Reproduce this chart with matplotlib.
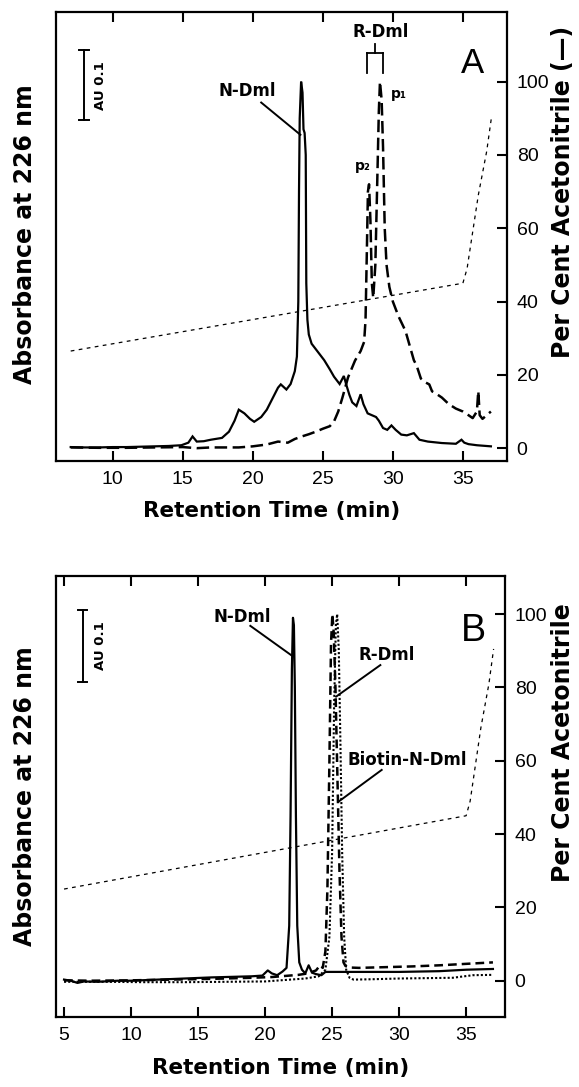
import matplotlib
matplotlib.use("Agg")
import matplotlib.pyplot as plt
from matplotlib import font_manager

# ---------------- data ----------------
# Panel A: N-Dml (solid), R-Dml (dashed), acetonitrile gradient (thin dashed)
a_n_time = [7.0, 8, 9, 10, 11, 12, 13, 14, 14.9, 15.4, 15.7, 16.0, 16.5, 17.0, 17.8, 18.3, 18.7,
            19.0, 19.4, 19.8, 20.1, 20.6, 21.0, 21.4, 21.8, 22.0, 22.4, 22.7, 23.0, 23.15, 23.25,
            23.3, 23.35, 23.45, 23.55, 23.62, 23.7, 23.78, 23.82, 23.9, 24.0, 24.2, 24.5, 24.8,
            25.1, 25.5, 25.8, 26.2, 26.5, 26.7, 26.9, 27.1, 27.4, 27.7, 27.9, 28.2, 28.5, 28.8,
            29.0, 29.3, 29.6, 29.9, 30.2, 30.6, 31.0, 31.5, 31.9, 32.5, 33.5, 34.5, 34.9, 35.1,
            35.4, 36.0, 37.0]
a_n_abs = [0.3, 0.2, 0.2, 0.3, 0.3, 0.4, 0.5, 0.6, 0.8, 1.5, 3.2, 1.8, 1.9, 2.3, 2.8, 4.5, 7.5,
           10.5, 9.5, 8.0, 7.2, 8.5, 10.5, 13.5, 16.5, 17.4, 16.0, 17.5, 21.0, 25.0, 40.0,
           70.0, 90.0, 100.0, 97.0, 87.0, 86.0, 80.0, 45.0, 35.0, 31.0, 28.5, 27.0, 25.5,
           24.0, 21.5, 19.5, 17.5, 19.7, 17.0, 14.5, 12.5, 11.5, 14.7, 12.0, 9.5, 9.0, 8.5,
           7.5, 5.5, 5.0, 6.2, 5.0, 3.7, 3.5, 4.1, 2.3, 1.8, 1.4, 1.2, 2.3, 1.5,
           1.1, 0.8, 0.5]

a_r_time = [7.0, 9, 11, 13, 15, 16, 17, 18, 19, 20, 21, 21.8, 22.5, 23.0, 23.5, 24.0, 24.5, 25.0,
            25.5, 25.8, 26.1, 26.4, 26.8, 27.3, 27.7, 27.95, 28.05, 28.15, 28.22, 28.3, 28.4,
            28.5, 28.6, 28.75, 28.9, 29.0, 29.08, 29.2, 29.3, 29.42, 29.55, 29.75, 30.0, 30.4,
            30.9, 31.2, 31.5, 31.7, 32.0, 32.3, 32.6, 32.8, 33.0, 33.5, 34.0, 34.5, 35.0, 35.4,
            35.7, 36.0, 36.1, 36.2, 36.4, 36.7, 37.0]
a_r_abs = [0.2, 0.1, 0.1, 0.2, 0.3, 0.0, 0.2, 0.2, 0.2, 0.5, 1.0, 1.8, 1.5, 2.5, 3.2, 3.8, 4.5, 5.3,
           6.0, 7.3, 10.0, 13.8, 19.3, 23.9, 26.5, 29.0, 35.0, 55.0, 70.0, 72.0, 62.0,
           45.0, 41.0, 50.0, 75.0, 92.0, 100.0, 95.0, 82.0, 60.0, 50.0, 44.0, 40.0, 36.0,
           32.0, 28.0, 24.0, 22.5, 19.0, 18.0, 17.4, 15.5, 15.1, 13.8, 12.0, 10.8, 10.0, 9.0,
           8.2, 10.0, 15.6, 9.0, 8.0, 9.0, 10.0]

a_acn_time = [7.0, 35.0, 35.3, 36.1, 36.7, 37.05]
a_acn_pct = [26.5, 45.0, 49.0, 69.0, 81.0, 90.5]

# Panel B: N-Dml (solid), R-Dml (dashed), Biotin-N-Dml (dotted), gradient (thin dashed)
b_n_time = [5.0, 5.5, 6.0, 6.5, 7.5, 9, 10, 12, 14, 16, 18, 19, 19.8, 20.2, 20.5, 20.9, 21.3,
            21.6, 21.8, 21.9, 22.0, 22.08, 22.15, 22.22, 22.3, 22.4, 22.55, 22.75, 23.0, 23.25,
            23.5, 23.8, 24.2, 24.5, 25.0, 27, 30, 33, 35, 37]
b_n_abs = [0.3, 0.0, -0.6, -0.2, -0.3, 0.0, 0.0, 0.3, 0.6, 0.9, 1.1, 1.2, 1.4, 2.8, 2.0, 1.5, 2.5,
           3.5, 15.0, 45.0, 85.0, 99.0, 97.0, 80.0, 45.0, 15.0, 5.0, 3.0, 2.0, 4.2,
           2.2, 1.8, 1.5, 2.4, 2.4, 2.4, 2.4, 2.6, 3.0, 3.2]

b_r_time = [5.0, 7, 10, 13, 16, 19, 20.5, 21.5, 22.5, 23.2, 23.8, 24.1, 24.3, 24.5, 24.65, 24.8,
            24.92, 25.02, 25.12, 25.25, 25.4, 25.55, 25.7, 25.85, 26.0, 26.3, 27, 29, 31, 33,
            35, 37]
b_r_abs = [0.1, 0.0, 0.1, 0.3, 0.5, 0.8, 1.0, 1.3, 1.6, 2.0, 2.8, 4.2, 3.5, 8.0, 25.0, 60.0,
           92.0, 100.0, 95.0, 80.0, 55.0, 30.0, 12.0, 5.0, 4.0, 3.6, 3.5, 3.7, 3.9, 4.2,
           4.6, 5.0]

b_b_time = [5.0, 8, 11, 14, 17, 20, 21.5, 23, 24.0, 24.5, 24.8, 25.0, 25.15, 25.28, 25.38, 25.5,
            25.62, 25.75, 25.9, 26.05, 26.3, 26.6, 28, 30, 32, 34, 35.5, 37]
b_b_abs = [-0.3, -0.3, -0.4, -0.4, -0.3, -0.2, 0.2, 0.6, 1.2, 3.0, 12.0, 35.0, 75.0, 97.0, 100.0,
           90.0, 65.0, 35.0, 12.0, 3.0, 0.8, 0.3, 0.4, 0.6, 0.7, 0.8, 1.5, 1.6]

b_acn_time = [5.0, 35.0, 35.3, 36.1, 36.7, 37.05]
b_acn_pct = [25.0, 45.0, 49.0, 69.0, 81.0, 90.5]

a_xticks = [10, 15, 20, 25, 30, 35]
b_xticks = [5, 10, 15, 20, 25, 30, 35]
pct_ticks = [0, 20, 40, 60, 80, 100]

# ---------------- fonts ----------------
names = {f.name for f in font_manager.fontManager.ttflist}
if "Liberation Sans Narrow" in names:
    TICK_FONT, TICK_SIZE = "Liberation Sans Narrow", 15.5
else:
    TICK_FONT, TICK_SIZE = "Liberation Sans", 14
LAB_FONT = "DejaVu Sans"
LETTER_FONT = "Liberation Sans"

W, H = 579, 1087
fig = plt.figure(figsize=(W / 100, H / 100), dpi=100)


def px_axes(l, t, r, b):
    return [l / W, 1 - b / H, (r - l) / W, (b - t) / H]


axA = fig.add_axes(px_axes(56, 12, 507, 461))
axB = fig.add_axes(px_axes(56, 576, 505, 1017))

acn_style = dict(color="black", lw=0.9, dashes=(3.0, 3.5))


def style_axes(ax, xlim, ylim, xticks):
    ax.set_xlim(*xlim)
    ax.set_ylim(*ylim)
    for s in ax.spines.values():
        s.set_linewidth(1.6)
        s.set_color("black")
    ax.set_xticks(xticks)
    ax.yaxis.tick_right()
    ax.set_yticks(pct_ticks)
    ax.tick_params(axis="x", direction="in", top=True, bottom=True, length=7, width=1.5,
                   pad=7, labelsize=TICK_SIZE)
    ax.tick_params(axis="y", direction="in", left=False, right=True, length=7, width=1.5,
                   pad=7, labelsize=TICK_SIZE)
    for lab in ax.get_xticklabels() + ax.get_yticklabels():
        lab.set_family(TICK_FONT)


# ---------------- panel A ----------------
axA.plot(a_acn_time, a_acn_pct, **acn_style)
axA.plot(a_r_time, a_r_abs, color="black", lw=1.8, dashes=(5, 2.2))
axA.plot(a_n_time, a_n_abs, color="black", lw=1.6, solid_joinstyle="miter")
style_axes(axA, (5.95, 38.15), (-3.5, 119), a_xticks)

bold = dict(family=LAB_FONT, weight="bold", color="black")

# scale bar
axA.plot([7.95, 7.95], [89.5, 108.5], color="black", lw=1.4)
axA.plot([7.6, 8.3], [108.5, 108.5], color="black", lw=1.4)
axA.plot([7.6, 8.3], [89.5, 89.5], color="black", lw=1.4)
axA.text(9.1, 99, "AU 0.1", rotation=90, ha="center", va="center", fontsize=9.5, **bold)

axA.text(19.6, 97.5, "N-Dml", ha="center", va="center", fontsize=12, **bold)
axA.plot([20.6, 23.4], [94.3, 85.5], color="black", lw=1.4)

axA.text(29.15, 113.6, "R-Dml", ha="center", va="center", fontsize=12, **bold)
axA.plot([28.73, 28.73], [110.3, 107.8], color="black", lw=1.3)
axA.plot([28.17, 29.3], [107.8, 107.8], color="black", lw=1.3)
axA.plot([28.17, 28.17], [107.8, 102.3], color="black", lw=1.3)
axA.plot([29.3, 29.3], [107.8, 102.3], color="black", lw=1.3)
axA.text(30.45, 96.5, "p\u2081", ha="center", va="center", fontsize=10, **bold)
axA.text(27.85, 77.0, "p\u2082", ha="center", va="center", fontsize=10, **bold)

axA.text(35.7, 105, "A", ha="center", va="center", fontsize=25, family=LETTER_FONT)

# ---------------- panel B ----------------
axB.plot(b_acn_time, b_acn_pct, **acn_style)
axB.plot(b_b_time, b_b_abs, color="black", lw=1.5, linestyle=(0, (1, 1)))
axB.plot(b_r_time, b_r_abs, color="black", lw=1.8, dashes=(3.5, 2.0))
axB.plot(b_n_time, b_n_abs, color="black", lw=1.6)
style_axes(axB, (4.4, 37.9), (-9.9, 110.4), b_xticks)

axB.plot([6.4, 6.4], [81.5, 101.0], color="black", lw=1.4)
axB.plot([6.05, 6.75], [101.0, 101.0], color="black", lw=1.4)
axB.plot([6.05, 6.75], [81.5, 81.5], color="black", lw=1.4)
axB.text(7.7, 91.3, "AU 0.1", rotation=90, ha="center", va="center", fontsize=9.5, **bold)

axB.text(18.3, 99.3, "N-Dml", ha="center", va="center", fontsize=12, **bold)
axB.plot([18.9, 21.95], [96.8, 88.8], color="black", lw=1.4)

axB.text(29.1, 88.8, "R-Dml", ha="center", va="center", fontsize=12, **bold)
axB.plot([28.6, 25.3], [86.1, 77.5], color="black", lw=1.4)

axB.text(30.6, 60.2, "Biotin-N-Dml", ha="center", va="center", fontsize=12, **bold)
axB.plot([28.7, 25.5], [57.5, 48.9], color="black", lw=1.4)

axB.text(35.55, 95.5, "B", ha="center", va="center", fontsize=27, family=LETTER_FONT)

# ---------------- axis titles ----------------
lab = dict(family=LAB_FONT, weight="bold", ha="center", va="center")
fig.text(25 / W, 1 - 234 / H, "Absorbance at 226 nm", rotation=90, fontsize=17, **lab)
fig.text(25 / W, 1 - 796 / H, "Absorbance at 226 nm", rotation=90, fontsize=17, **lab)
fig.text(563 / W, 1 - 192 / H, "Per Cent Acetonitrile (\u2014)", rotation=90, fontsize=17, **lab)
fig.text(563 / W, 1 - 743 / H, "Per Cent Acetonitrile", rotation=90, fontsize=17, **lab)
fig.text(272 / W, 1 - 511 / H, "Retention Time (min)", fontsize=15.5, **lab)
fig.text(281 / W, 1 - 1068 / H, "Retention Time (min)", fontsize=15.5, **lab)

fig.savefig("out.png", dpi=100)
